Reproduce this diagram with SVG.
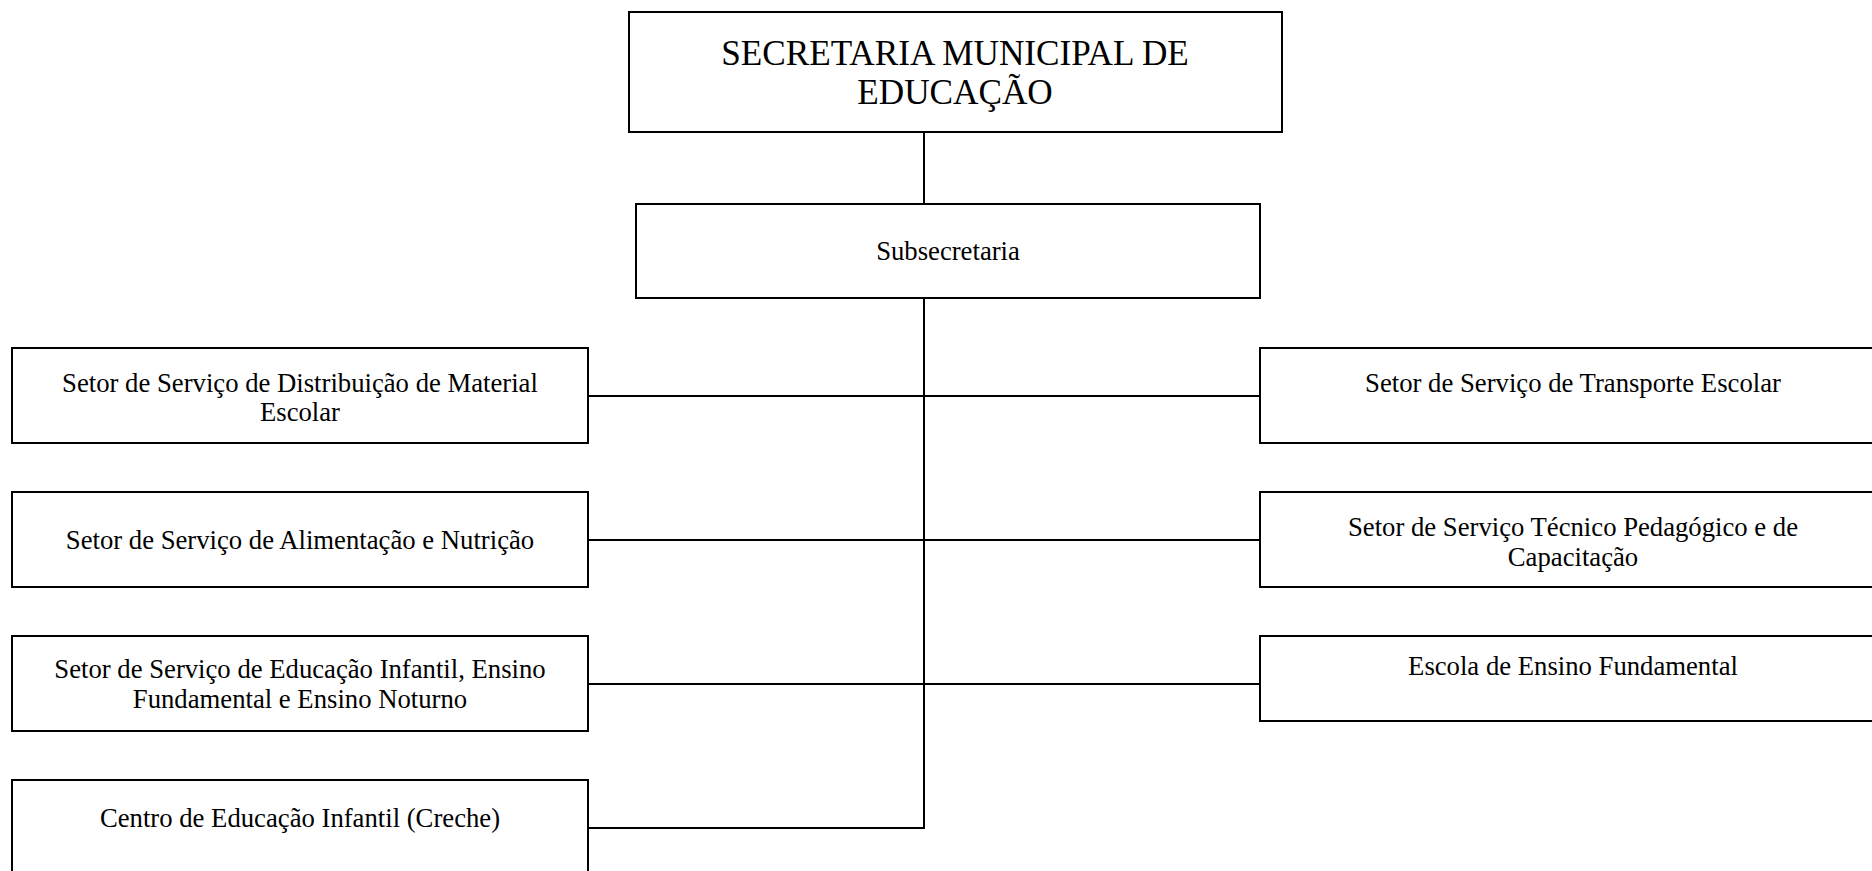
<svg xmlns="http://www.w3.org/2000/svg" width="1872" height="871" viewBox="0 0 1872 871">
<style>
rect.box{fill:#fff;stroke:#000;stroke-width:2}
.conn line{stroke:#000;stroke-width:2}
text{font-family:"Liberation Serif","Times New Roman",serif;fill:#000;text-anchor:middle}
.t{font-size:35.2px}
.b{font-size:26.7px}
</style>
<rect width="1872" height="871" fill="#fff"/>
<g class="conn" id="connectors">
<line x1="924" y1="132" x2="924" y2="204"/>
<line x1="924" y1="298" x2="924" y2="828"/>
<line x1="588" y1="396" x2="924" y2="396"/>
<line x1="588" y1="540" x2="924" y2="540"/>
<line x1="588" y1="684" x2="924" y2="684"/>
<line x1="588" y1="828" x2="925" y2="828"/>
<line x1="924" y1="396" x2="1260" y2="396"/>
<line x1="924" y1="540" x2="1260" y2="540"/>
<line x1="924" y1="684" x2="1260" y2="684"/>
</g>
<g id="secretaria">
<rect class="box" x="629" y="12" width="653" height="120"/>
<text class="t" x="955" y="65">SECRETARIA MUNICIPAL DE</text>
<text class="t" x="955" y="104">EDUCAÇÃO</text>
</g>
<g id="subsecretaria">
<rect class="box" x="636" y="204" width="624" height="94"/>
<text class="b" x="948" y="260">Subsecretaria</text>
</g>
<g id="distribuicao">
<rect class="box" x="12" y="348" width="576" height="95"/>
<text class="b" x="300" y="392">Setor de Serviço de Distribuição de Material</text>
<text class="b" x="300" y="421">Escolar</text>
</g>
<g id="alimentacao">
<rect class="box" x="12" y="492" width="576" height="95"/>
<text class="b" x="300" y="549">Setor de Serviço de Alimentação e Nutrição</text>
</g>
<g id="educacao-infantil">
<rect class="box" x="12" y="636" width="576" height="95"/>
<text class="b" x="300" y="678">Setor de Serviço de Educação Infantil, Ensino</text>
<text class="b" x="300" y="708">Fundamental e Ensino Noturno</text>
</g>
<g id="creche">
<rect class="box" x="12" y="780" width="576" height="95"/>
<text class="b" x="300" y="827">Centro de Educação Infantil (Creche)</text>
</g>
<g id="transporte">
<rect class="box" x="1260" y="348" width="626" height="95"/>
<text class="b" x="1573" y="392">Setor de Serviço de Transporte Escolar</text>
</g>
<g id="tecnico">
<rect class="box" x="1260" y="492" width="626" height="95"/>
<text class="b" x="1573" y="536">Setor de Serviço Técnico Pedagógico e de</text>
<text class="b" x="1573" y="566">Capacitação</text>
</g>
<g id="escola">
<rect class="box" x="1260" y="636" width="626" height="85"/>
<text class="b" x="1573" y="675">Escola de Ensino Fundamental</text>
</g>
</svg>
